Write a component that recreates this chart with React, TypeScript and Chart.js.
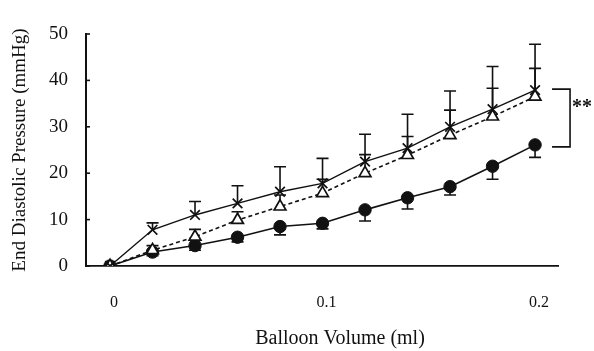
import { useEffect, useRef } from "react";
import { Chart, registerables } from "chart.js";

Chart.register(...registerables);

// Balloon volume steps (ml)
const volumes = [0, 0.02, 0.04, 0.06, 0.08, 0.1, 0.12, 0.14, 0.16, 0.18, 0.2];

// Group plotted with crosses (solid line), error bars upward
const crossMean = [0, 7.8, 11, 13.5, 16, 17.8, 22.5, 25.4, 30, 33.8, 37.9];
const crossErr = [0, 1.5, 2.9, 3.8, 5.4, 5.4, 5.9, 7.3, 7.7, 9.2, 9.9];

// Group plotted with open triangles (dashed line), error bars upward
const triMean = [0, 3.4, 6.3, 9.9, 12.8, 15.7, 20, 23.9, 28.2, 32.2, 36.5];
const triErr = [0, 1, 1.6, 1.8, 2.5, 3, 4, 4, 5.4, 6.1, 6.1];

// Group plotted with filled circles (solid line), error bars downward
const dotMean = [0, 3, 4.4, 6.2, 8.5, 9.2, 12.1, 14.7, 17.1, 21.5, 26.1];
const dotErr = [0, 0.8, 1, 1, 1.8, 1.2, 2.4, 2.4, 1.8, 2.8, 2.7];

const xTicks = [0, 0.1, 0.2];
const yTicks = [0, 10, 20, 30, 40, 50];

const xTitle = "Balloon Volume (ml)";
const yTitle = "End Diastolic Pressure (mmHg)";
const sigLabel = "**";

const INK = "#111";
const FONT = "'Liberation Serif', 'Times New Roman', serif";

const toPoints = (ys: number[]) => volumes.map((v, i) => ({ x: v, y: ys[i] }));

const errorBars = {
  id: "errorBars",
  beforeDatasetsDraw(chart: any) {
    const { ctx, scales } = chart;
    const x = scales.x;
    const y = scales.y;
    ctx.save();
    ctx.strokeStyle = INK;
    ctx.lineWidth = 1.6;
    ctx.setLineDash([]);
    chart.data.datasets.forEach((ds: any) => {
      ds.errors.forEach((e: number, i: number) => {
        if (!e) return;
        const px = x.getPixelForValue(volumes[i]);
        const y0 = y.getPixelForValue(ds.data[i].y);
        const y1 = y.getPixelForValue(ds.data[i].y + ds.errDir * e);
        ctx.beginPath();
        ctx.moveTo(px, y0);
        ctx.lineTo(px, y1);
        ctx.moveTo(px - 6, y1);
        ctx.lineTo(px + 6, y1);
        ctx.stroke();
      });
    });
    ctx.restore();
  },
  afterDraw(chart: any) {
    const { ctx, scales, chartArea } = chart;
    const x = scales.x;
    const y = scales.y;
    ctx.save();
    ctx.strokeStyle = INK;
    ctx.fillStyle = INK;
    ctx.lineWidth = 1.6;
    // inward tick marks on the y axis
    yTicks.forEach((t) => {
      const py = y.getPixelForValue(t);
      ctx.beginPath();
      ctx.moveTo(chartArea.left, py);
      ctx.lineTo(chartArea.left + 4, py);
      ctx.stroke();
    });
    // significance bracket between the last points
    const last = volumes.length - 1;
    const bx = x.getPixelForValue(volumes[last]);
    const top = y.getPixelForValue(crossMean[last]) - 1;
    const bot = y.getPixelForValue(dotMean[last]) + 2;
    ctx.beginPath();
    ctx.moveTo(bx + 17, top);
    ctx.lineTo(bx + 35, top);
    ctx.lineTo(bx + 35, bot);
    ctx.lineTo(bx + 17, bot);
    ctx.stroke();
    ctx.font = `bold 20px ${FONT}`;
    ctx.textAlign = "left";
    ctx.textBaseline = "middle";
    ctx.fillText(sigLabel, bx + 37, (top + bot) / 2 - 10);
    // x axis title
    ctx.font = `20px ${FONT}`;
    ctx.textAlign = "center";
    ctx.fillText(xTitle, 340, chart.height - 12);
    ctx.restore();
  },
};

export default function App() {
  const ref = useRef<HTMLCanvasElement | null>(null);

  useEffect(() => {
    if (!ref.current) return;
    const chart = new Chart(ref.current, {
      type: "line",
      data: {
        datasets: [
          {
            label: "cross",
            data: toPoints(crossMean),
            errors: crossErr,
            errDir: 1,
            borderColor: INK,
            borderWidth: 1.4,
            pointStyle: "crossRot",
            pointRadius: 6.8,
            pointBorderWidth: 1.7,
            pointBorderColor: INK,
            pointBackgroundColor: INK,
          } as any,
          {
            label: "triangle",
            data: toPoints(triMean),
            errors: triErr,
            errDir: 1,
            borderColor: INK,
            borderWidth: 1.6,
            borderDash: [4, 3],
            pointStyle: "triangle",
            pointRadius: 6.8,
            pointBorderWidth: 1.7,
            pointBorderColor: INK,
            pointBackgroundColor: "#fff",
          } as any,
          {
            label: "circle",
            data: toPoints(dotMean),
            errors: dotErr,
            errDir: -1,
            borderColor: INK,
            borderWidth: 1.6,
            pointStyle: "circle",
            pointRadius: 6.2,
            pointBorderWidth: 1,
            pointBorderColor: INK,
            pointBackgroundColor: INK,
          } as any,
        ],
      },
      options: {
        animation: false,
        responsive: false,
        maintainAspectRatio: false,
        layout: { padding: { left: 0, right: 36, top: 34, bottom: 0 } },
        plugins: {
          legend: { display: false },
          tooltip: { enabled: false },
        },
        elements: { line: { tension: 0 } },
        scales: {
          x: {
            type: "linear",
            min: -0.0113,
            max: 0.2108,
            afterBuildTicks: (s: any) => {
              s.ticks = xTicks.map((v) => ({ value: v }));
            },
            afterFit: (s: any) => {
              s.height = 85;
            },
            ticks: {
              padding: 27,
              labelOffset: 4,
              color: INK,
              font: { family: FONT, size: 16 },
              callback: (v: any) => String(v),
            },
            grid: { display: false, drawTicks: false },
            border: { display: true, color: INK, width: 1.8 },
          },
          y: {
            type: "linear",
            min: 0,
            max: 50,
            afterBuildTicks: (s: any) => {
              s.ticks = yTicks.map((v) => ({ value: v }));
            },
            afterFit: (s: any) => {
              s.width = 86;
            },
            ticks: {
              padding: 18,
              color: INK,
              font: { family: FONT, size: 19 },
            },
            grid: { display: false, drawTicks: false },
            border: { display: true, color: INK, width: 2 },
            title: {
              display: true,
              text: yTitle,
              color: INK,
              font: { family: FONT, size: 19 },
              padding: { top: 9, bottom: 0 },
            },
          },
        },
      },
      plugins: [errorBars],
    });
    return () => chart.destroy();
  }, []);

  return (
    <div style={{ position: "fixed", left: 0, top: 0, width: 594, height: 351, background: "#fff" }}>
      <canvas ref={ref} width={594} height={351} />
    </div>
  );
}
